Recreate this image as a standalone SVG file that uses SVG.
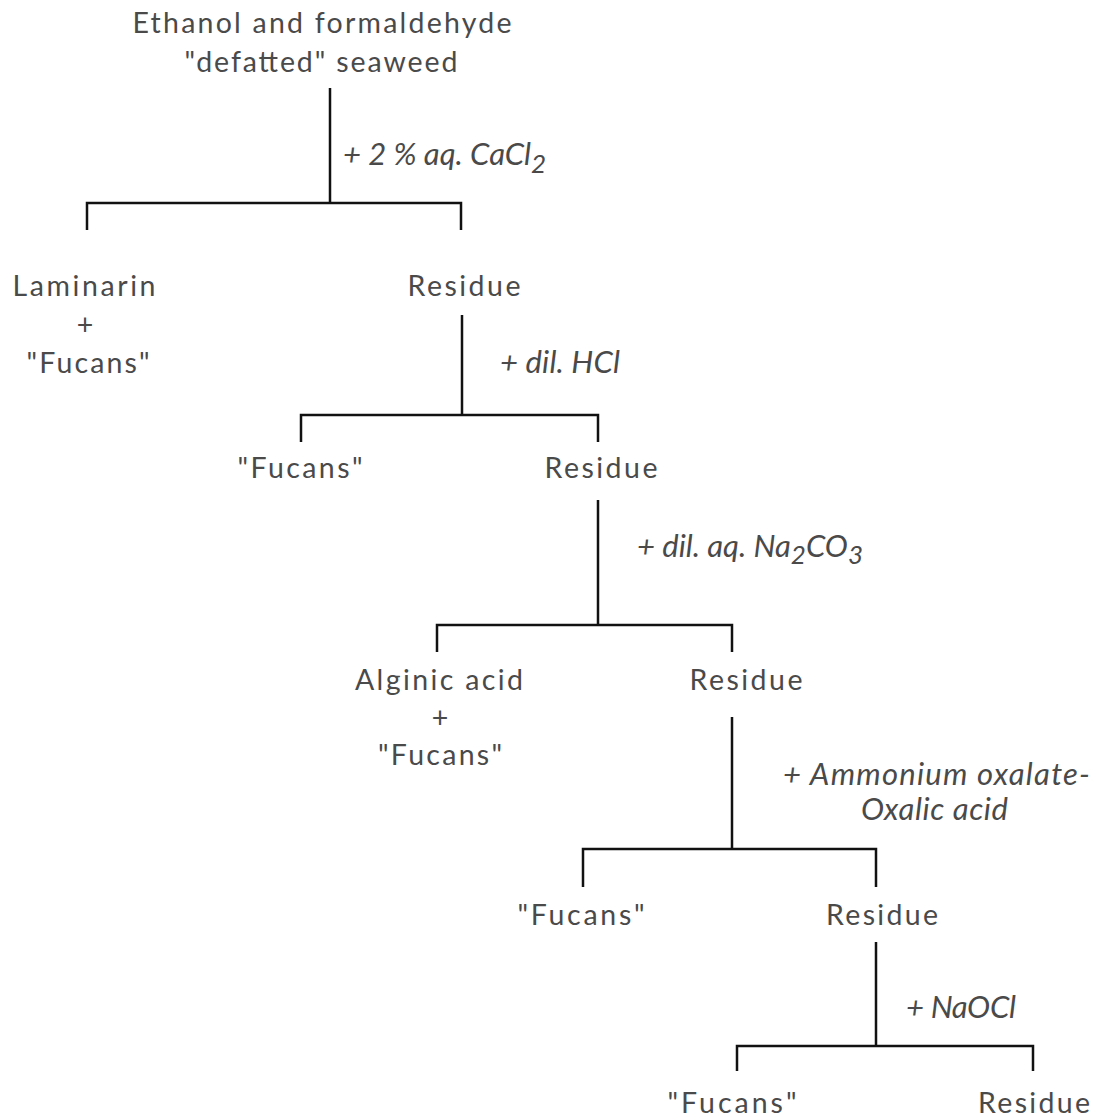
<svg xmlns="http://www.w3.org/2000/svg" width="1096" height="1120" viewBox="0 0 1096 1120">
<style>
.t{font-family:Lato,"Open Sans","Liberation Sans",sans-serif;font-size:28.5px;fill:#4a4a4a;text-anchor:middle}
.l{font-family:Lato,"Open Sans","Liberation Sans",sans-serif;font-size:31px;fill:#4a4a4a;font-style:italic}
.c{stroke:#111;stroke-width:2.5;fill:none}
</style>
<rect width="1096" height="1120" fill="#fff"/>
<g id="connectors" class="c">
<path d="M330 88V203M87 230V203H461V230"/>
<path d="M462 315V415M301 442V415H598V442"/>
<path d="M598 500V625M437 652V625H732V652"/>
<path d="M732 717V849M583 887V849H876V887"/>
<path d="M876 942V1046M737 1071V1046H1033V1071"/>
</g>
<g id="start"><text class="t" x="322" y="33" textLength="379">Ethanol and formaldehyde</text><text class="t" x="321" y="72" textLength="273">"defatted" seaweed</text></g>
<g id="lam"><text class="t" x="84" y="296" textLength="143">Laminarin</text><text class="t" x="85" y="335">+</text><text class="t" x="88" y="373" textLength="123">"Fucans"</text></g>
<g id="res1"><text class="t" x="464" y="296" textLength="113">Residue</text></g>
<g id="fuc2"><text class="t" x="300" y="478" textLength="125">"Fucans"</text></g>
<g id="res2"><text class="t" x="601" y="478" textLength="113">Residue</text></g>
<g id="alg"><text class="t" x="439" y="690" textLength="168">Alginic acid</text><text class="t" x="440" y="728">+</text><text class="t" x="440" y="765" textLength="124">"Fucans"</text></g>
<g id="res3"><text class="t" x="746" y="690" textLength="113">Residue</text></g>
<g id="fuc4"><text class="t" x="581" y="925" textLength="127">"Fucans"</text></g>
<g id="res4"><text class="t" x="882" y="925" textLength="112">Residue</text></g>
<g id="fuc5"><text class="t" x="732" y="1113" textLength="129">"Fucans"</text></g>
<g id="res5"><text class="t" x="1034" y="1113" textLength="112">Residue</text></g>
<g id="labels">
<text class="l" x="343" y="165" font-size="32">+ 2 % aq. CaCl<tspan dy="8" font-size="26">2</tspan></text>
<text class="l" x="500" y="373" textLength="120">+ dil. HCl</text>
<text class="l" x="637" y="557" font-size="32">+ dil. aq. Na<tspan dy="7" font-size="26">2</tspan><tspan dy="-7">CO</tspan><tspan dy="7" font-size="26">3</tspan></text>
<text class="l" x="783" y="785" textLength="307">+ Ammonium oxalate-</text>
<text class="l" x="861" y="820" textLength="147">Oxalic acid</text>
<text class="l" x="906" y="1018" textLength="110">+ NaOCl</text>
</g>
</svg>
